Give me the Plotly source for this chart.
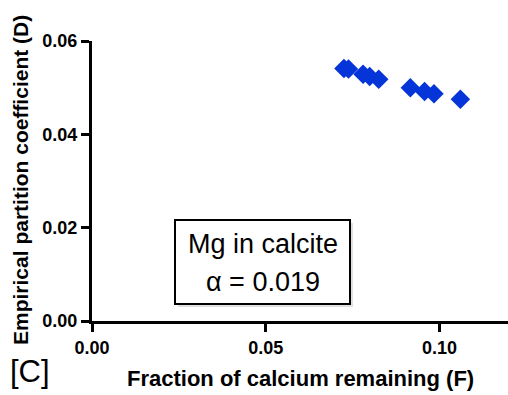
import plotly.graph_objects as go

# Data
fraction_remaining = [0.0725, 0.0738, 0.0780, 0.0799, 0.0825, 0.0916, 0.0957, 0.0984, 0.1060]
partition_coeff = [0.0541, 0.0540, 0.0529, 0.0524, 0.0518, 0.0500, 0.0492, 0.0487, 0.0475]
x_ticks = [0.0, 0.05, 0.10]
y_ticks = [0.0, 0.02, 0.04, 0.06]

FONT = "Liberation Sans, Arial"
L, T, W, H = 92, 41, 416, 280

def px_x(p):
    return (p - L) / W

def px_y(p):
    return (T + H - p) / H

fig = go.Figure()
fig.add_trace(go.Scatter(
    x=fraction_remaining, y=partition_coeff, mode="markers",
    marker=dict(symbol="diamond", size=15, color="#0535d8", line=dict(width=0)),
    showlegend=False, cliponaxis=False,
))

tickfont = dict(family=FONT, size=18, color="black", weight="bold")
fig.update_layout(
    width=508, height=395,
    margin=dict(l=L, r=0, t=T, b=395 - T - H),
    paper_bgcolor="white", plot_bgcolor="white",
    xaxis=dict(range=[0, 0.1197], tickvals=x_ticks, tickformat=".2f",
               showline=True, linecolor="black", linewidth=3,
               ticks="outside", ticklen=8, tickwidth=3, tickcolor="black",
               showgrid=False, zeroline=False, tickfont=tickfont),
    yaxis=dict(range=[0, 0.06], tickvals=y_ticks, tickformat=".2f",
               showline=True, linecolor="black", linewidth=3,
               ticks="outside", ticklen=8, tickwidth=3, tickcolor="black",
               showgrid=False, zeroline=False, tickfont=tickfont),
)

fig.add_annotation(
    text="<b>Empirical partition coefficient (D)</b>", textangle=-90,
    xref="paper", yref="paper", x=px_x(20), y=px_y(180),
    xanchor="center", yanchor="middle", showarrow=False,
    font=dict(family=FONT, size=21, color="black"),
)
fig.add_annotation(
    text="<b>Fraction of calcium remaining (F)</b>",
    xref="paper", yref="paper", x=px_x(300), y=px_y(378),
    xanchor="center", yanchor="middle", showarrow=False,
    font=dict(family=FONT, size=22, color="black"),
)
fig.add_annotation(
    text="[C]",
    xref="paper", yref="paper", x=px_x(30), y=px_y(371),
    xanchor="center", yanchor="middle", showarrow=False,
    font=dict(family=FONT, size=31, color="black"),
)
# text box: shadow, box, two lines
fig.add_shape(type="rect", xref="paper", yref="paper",
              x0=px_x(178), x1=px_x(353), y0=px_y(307), y1=px_y(223),
              fillcolor="rgba(0,0,0,0.12)", line=dict(width=0), layer="above")
fig.add_shape(type="rect", xref="paper", yref="paper",
              x0=px_x(175), x1=px_x(350), y0=px_y(304), y1=px_y(220),
              fillcolor="white", line=dict(color="black", width=2), layer="above")
fig.add_annotation(
    text="Mg in calcite",
    xref="paper", yref="paper", x=px_x(262.5), y=px_y(244),
    xanchor="center", yanchor="middle", showarrow=False,
    font=dict(family=FONT, size=27, color="black"),
)
fig.add_annotation(
    text="α = 0.019",
    xref="paper", yref="paper", x=px_x(262.5), y=px_y(282),
    xanchor="center", yanchor="middle", showarrow=False,
    font=dict(family=FONT, size=27, color="black"),
)

fig.write_html("out.html")
